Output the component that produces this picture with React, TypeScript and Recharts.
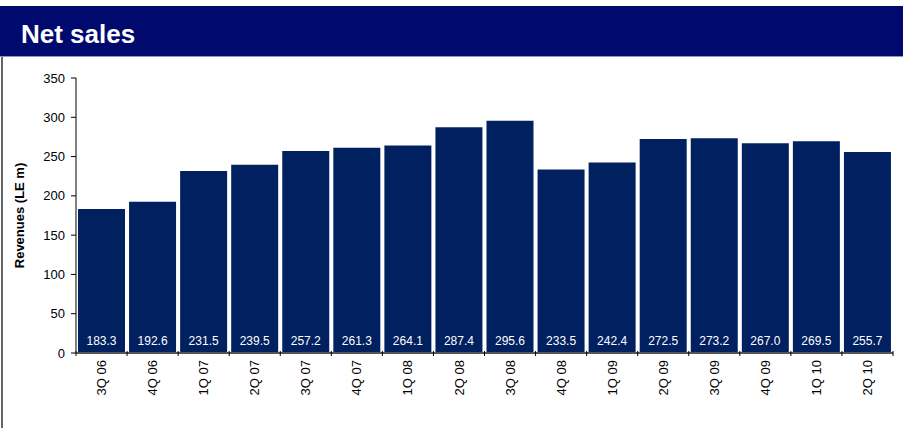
import { BarChart, Bar, XAxis, YAxis, LabelList } from 'recharts';

const quarters = ['3Q 06', '4Q 06', '1Q 07', '2Q 07', '3Q 07', '4Q 07', '1Q 08', '2Q 08', '3Q 08', '4Q 08', '1Q 09', '2Q 09', '3Q 09', '4Q 09', '1Q 10', '2Q 10'];
const netSales = [183.3, 192.6, 231.5, 239.5, 257.2, 261.3, 264.1, 287.4, 295.6, 233.5, 242.4, 272.5, 273.2, 267.0, 269.5, 255.7];
const yTicks = [0, 50, 100, 150, 200, 250, 300, 350];

const data = quarters.map((q, i) => ({ name: q, value: netSales[i] }));

const FONT = 'Arial, "Liberation Sans", sans-serif';
const AXIS = '#555555';

const QuarterTick = (props: any) => {
  const { x, y, payload, index } = props;
  const half = payload.offset || 0;
  const last = index === quarters.length - 1;
  return (
    <g>
      <line x1={x - half} y1={y - 8} x2={x - half} y2={y - 3} stroke="#000" strokeWidth={1} />
      {last && <line x1={x + half} y1={y - 8} x2={x + half} y2={y - 3} stroke="#000" strokeWidth={1} />}
      <g transform={`translate(${x},${y})`}>
        <text transform="rotate(-90)" x={-1} y={0} dy="0.35em" textAnchor="end" fontSize={13} fill="#000" fontFamily={FONT}>
          {payload.value}
        </text>
      </g>
    </g>
  );
};

const App = () => {
  return (
    <div style={{ position: 'fixed', left: 0, top: 0, width: 903, height: 428, background: '#fff', fontFamily: FONT }}>
      <div style={{ position: 'absolute', left: 0, top: 6, width: 903, height: 50, background: '#000a6e', borderBottom: '1px solid #8a96c8' }}>
        <div style={{ position: 'absolute', left: 21, top: 13, color: '#fff', fontSize: 26, fontWeight: 'bold', lineHeight: '30px' }}>Net sales</div>
      </div>
      <div style={{ position: 'absolute', left: 1, top: 57, width: 2, height: 371, background: '#666' }} />
      <div style={{ position: 'absolute', left: 0, top: 0 }}>
        <BarChart width={903} height={428} data={data} margin={{ top: 78, right: 10, bottom: 0, left: 0 }} barCategoryGap={2}>
          <XAxis
            dataKey="name"
            height={75}
            interval={0}
            tickLine={false}
            tickMargin={0}
            axisLine={{ stroke: AXIS, strokeWidth: 2 }}
            tick={<QuarterTick />}
          />
          <YAxis
            width={76}
            domain={[0, 350]}
            ticks={yTicks}
            interval={0}
            tickSize={5}
            tickMargin={6}
            axisLine={{ stroke: '#808080', strokeWidth: 2 }}
            tickLine={{ stroke: '#000' }}
            tick={{ fontSize: 13, fill: '#000', fontFamily: FONT }}
            label={{ value: 'Revenues (LE m)', angle: -90, position: 'insideLeft', dx: 14, fontSize: 13, fontWeight: 'bold', fill: '#000', fontFamily: FONT, style: { textAnchor: 'middle' } }}
          />
          <Bar dataKey="value" fill="#002060" isAnimationActive={false}>
            <LabelList
              dataKey="value"
              position="insideBottom"
              offset={8}
              fill="#fff"
              fontSize={12}
              fontFamily={FONT}
              formatter={(v: any) => Number(v).toFixed(1)}
            />
          </Bar>
        </BarChart>
      </div>
    </div>
  );
};

export default App;
